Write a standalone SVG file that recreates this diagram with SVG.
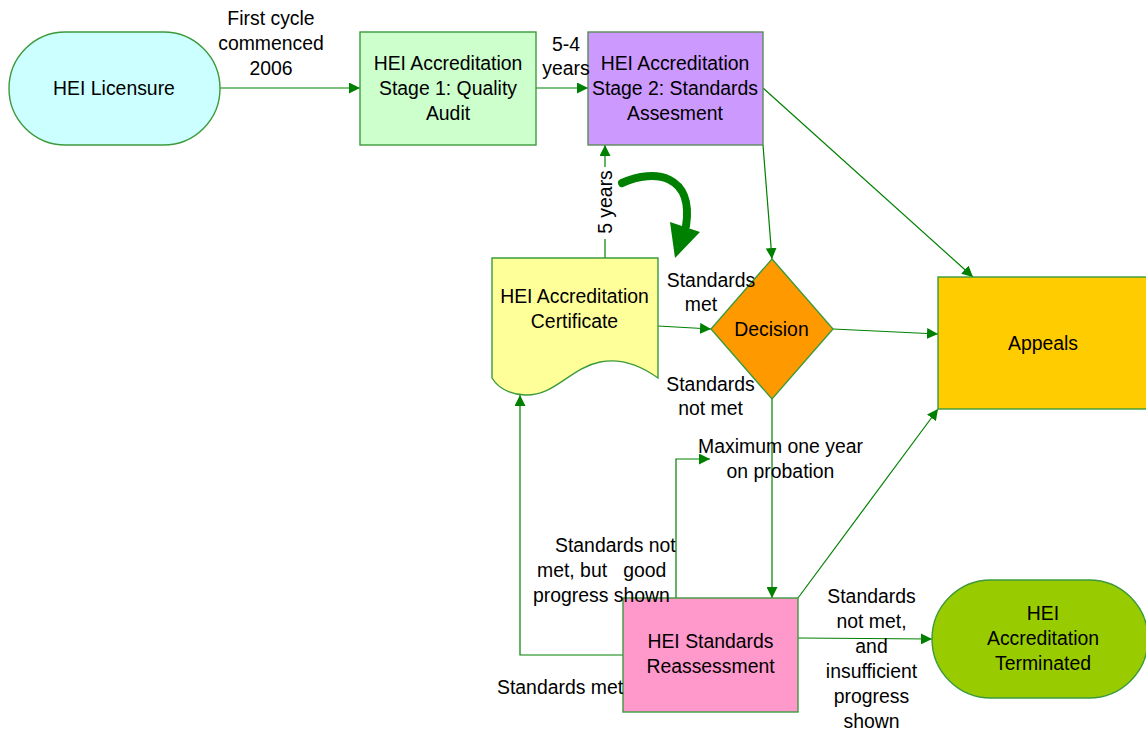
<svg xmlns="http://www.w3.org/2000/svg" width="1146" height="731" viewBox="0 0 1146 731">
  <defs>
    <marker id="arr" viewBox="0 0 10 10" refX="10" refY="5" markerWidth="11" markerHeight="11" markerUnits="userSpaceOnUse" orient="auto">
      <path d="M0,0 L10,5 L0,10 Z" fill="#008000"/>
    </marker>
    <style>
      text { font-family: "Liberation Sans", Arial, sans-serif; font-size: 19.4px; fill: #000; text-anchor: middle; }
      text.l { text-anchor: start; }
      .edge { fill: none; stroke: #008000; stroke-width: 1.2; }
      .node { stroke: #3c9a3c; stroke-width: 1.4; }
    </style>
  </defs>
  <rect width="1146" height="731" fill="#ffffff"/>

  <!-- connectors -->
  <g id="connectors">
    <path class="edge" d="M220,88 L360,88" marker-end="url(#arr)"/>
    <path class="edge" d="M536,88 L588,88" marker-end="url(#arr)"/>
    <path class="edge" d="M605,258 L605,145" marker-end="url(#arr)"/>
    <path class="edge" d="M763,145 L772,259" marker-end="url(#arr)"/>
    <path class="edge" d="M763,88 L973,277" marker-end="url(#arr)"/>
    <path class="edge" d="M658,326 L711,329" marker-end="url(#arr)"/>
    <path class="edge" d="M833,329 L938,334" marker-end="url(#arr)"/>
    <path class="edge" d="M772,399 L772,598" marker-end="url(#arr)"/>
    <path class="edge" d="M798,598 L938,409" marker-end="url(#arr)"/>
    <path class="edge" d="M676,598 L676,459 L710,459" marker-end="url(#arr)"/>
    <path class="edge" d="M623,655 L520,655 L520,395" marker-end="url(#arr)"/>
    <path class="edge" d="M798,638 L932,639" marker-end="url(#arr)"/>
    <!-- thick curved arrow -->
    <path d="M622,183 C655,168 694,175 686,226" fill="none" stroke="#008000" stroke-width="8" stroke-linecap="round"/>
    <polygon points="670,222 700,232 675,258" fill="#008000"/>
  </g>

  <g id="licensure">
    <rect class="node" x="9" y="32" width="211" height="113" rx="56.5" ry="56.5" fill="#ccffff" stroke="#228b22"/>
    <text x="114" y="95">HEI Licensure</text>
  </g>

  <g id="stage1">
    <rect class="node" x="360" y="32" width="176" height="113" fill="#ccffcc"/>
    <text x="448" y="70">HEI Accreditation</text>
    <text x="448" y="95">Stage 1: Quality</text>
    <text x="448" y="120">Audit</text>
  </g>

  <g id="stage2">
    <rect x="588" y="32" width="175" height="113" fill="#cc99ff" stroke="#5a8a5a" stroke-width="1.4"/>
    <text x="675" y="70">HEI Accreditation</text>
    <text x="675" y="95">Stage 2: Standards</text>
    <text x="675" y="120">Assesment</text>
  </g>

  <g id="certificate">
    <path class="node" d="M492,258 L658,258 L658,378 C640,365 620,358 600,362 C570,368 555,396 525,395 C510,394 498,388 492,378 Z" fill="#ffff99" stroke="#66bb66"/>
    <text x="574.5" y="303">HEI Accreditation</text>
    <text x="574.5" y="328">Certificate</text>
  </g>

  <g id="decision">
    <polygon class="node" points="772,259 833,329 772,399 711,329" fill="#ff9900" stroke="#2e8b2e"/>
    <text x="771.5" y="336">Decision</text>
  </g>

  <g id="appeals">
    <rect class="node" x="938" y="277" width="215" height="132" fill="#ffcc00" stroke="#1e8a1e"/>
    <text x="1043" y="350">Appeals</text>
  </g>

  <g id="reassessment">
    <rect class="node" x="623" y="598" width="175" height="114" fill="#ff99cc"/>
    <text x="710.5" y="648">HEI Standards</text>
    <text x="710.5" y="673">Reassessment</text>
  </g>

  <g id="terminated">
    <rect class="node" x="932" y="580" width="216" height="118" rx="59" ry="59" fill="#99cc00" stroke="#2e8b2e"/>
    <text x="1043" y="620">HEI</text>
    <text x="1043" y="645">Accreditation</text>
    <text x="1043" y="670">Terminated</text>
  </g>

  <!-- connector labels, drawn above the shapes -->
  <g id="labels">
    <text x="271" y="25">First cycle</text>
    <text x="271" y="50">commenced</text>
    <text x="271" y="75">2006</text>
    <text x="566" y="51">5-4</text>
    <text x="566" y="75">years</text>
    <rect x="596" y="167" width="20" height="72" fill="#ffffff"/>
    <text transform="translate(612,202) rotate(-90)">5 years</text>
    <text x="711" y="287">Standards</text>
    <text x="701" y="311">met</text>
    <text x="710.5" y="391">Standards</text>
    <text x="710.5" y="415">not met</text>
    <text x="780.5" y="453">Maximum one year</text>
    <text x="780.5" y="478">on probation</text>
    <text class="l" x="555" y="552">Standards not</text>
    <text class="l" x="537" y="577" xml:space="preserve">met, but   good</text>
    <text class="l" x="533" y="602">progress shown</text>
    <text class="l" x="497" y="694">Standards met</text>
    <text x="871.5" y="603">Standards</text>
    <text x="871.5" y="628">not met,</text>
    <text x="871.5" y="653">and</text>
    <text x="871.5" y="678">insufficient</text>
    <text x="871.5" y="703">progress</text>
    <text x="871.5" y="728">shown</text>
  </g>
</svg>
